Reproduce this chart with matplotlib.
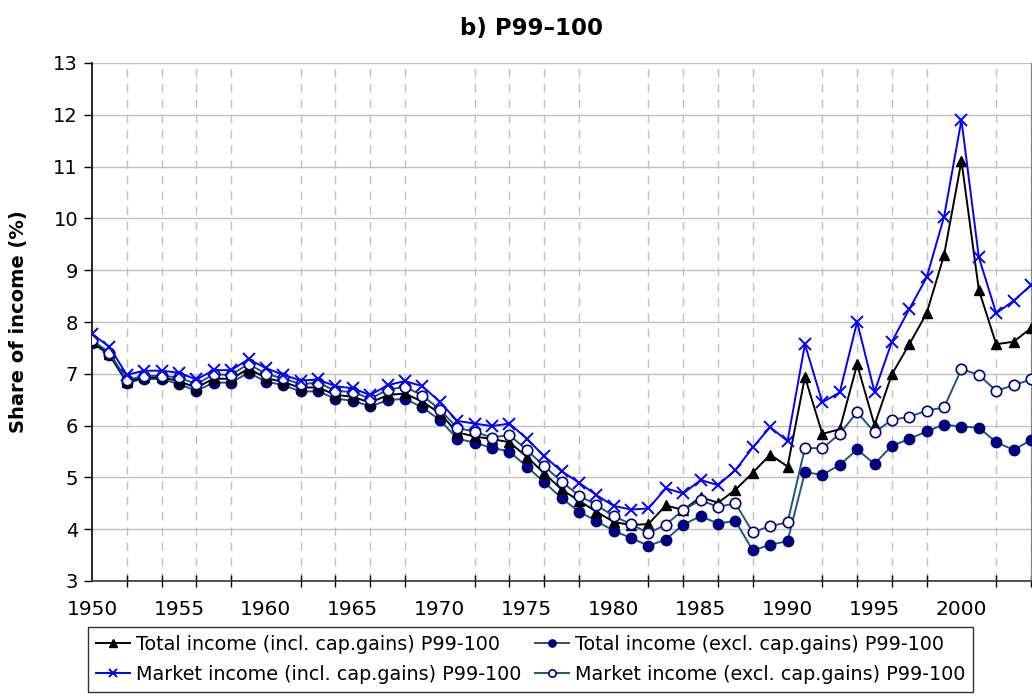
import matplotlib
matplotlib.use("Agg")
import matplotlib.pyplot as plt
from matplotlib.ticker import FixedLocator

years = list(range(1950, 2005))

total_incl = [7.62, 7.38, 6.85, 6.93, 6.93, 6.86, 6.73, 6.91, 6.90, 7.10,
              6.92, 6.84, 6.73, 6.74, 6.59, 6.56, 6.44, 6.59, 6.62, 6.46,
              6.24, 5.87, 5.79, 5.74, 5.68, 5.40, 5.08, 4.77, 4.55, 4.34,
              4.14, 4.08, 4.10, 4.46, 4.37, 4.62, 4.51, 4.76, 5.09, 5.44,
              5.21, 6.94, 5.84, 5.93, 7.18, 6.01, 6.99, 7.57, 8.17, 9.29,
              11.11, 8.62, 7.57, 7.62, 7.88]

total_excl = [7.60, 7.36, 6.83, 6.90, 6.90, 6.80, 6.67, 6.83, 6.83, 7.02,
              6.85, 6.78, 6.66, 6.66, 6.52, 6.48, 6.37, 6.49, 6.52, 6.35,
              6.11, 5.75, 5.67, 5.57, 5.50, 5.21, 4.91, 4.60, 4.34, 4.16,
              3.97, 3.83, 3.68, 3.80, 4.09, 4.25, 4.11, 4.16, 3.59, 3.70,
              3.77, 5.10, 5.05, 5.24, 5.54, 5.26, 5.61, 5.74, 5.89, 6.02,
              5.98, 5.96, 5.68, 5.53, 5.72]

market_incl = [7.77, 7.52, 6.98, 7.06, 7.06, 7.02, 6.89, 7.07, 7.07, 7.28,
               7.11, 6.98, 6.87, 6.89, 6.76, 6.72, 6.59, 6.78, 6.86, 6.76,
               6.46, 6.09, 6.04, 5.99, 6.04, 5.75, 5.41, 5.12, 4.90, 4.66,
               4.45, 4.38, 4.40, 4.79, 4.69, 4.95, 4.85, 5.14, 5.58, 5.97,
               5.70, 7.57, 6.45, 6.64, 8.00, 6.65, 7.62, 8.25, 8.86, 10.03,
               11.90, 9.25, 8.17, 8.41, 8.71]

market_excl = [7.65, 7.41, 6.88, 6.96, 6.96, 6.93, 6.80, 6.99, 6.98, 7.19,
               7.00, 6.91, 6.80, 6.83, 6.67, 6.65, 6.52, 6.69, 6.75, 6.58,
               6.31, 5.96, 5.88, 5.77, 5.82, 5.53, 5.22, 4.92, 4.65, 4.47,
               4.25, 4.10, 3.92, 4.09, 4.37, 4.56, 4.43, 4.50, 3.94, 4.06,
               4.13, 5.57, 5.56, 5.84, 6.26, 5.87, 6.11, 6.17, 6.29, 6.35,
               7.09, 6.98, 6.67, 6.78, 6.89]

labels = ["Total income (incl. cap.gains) P99-100",
          "Market income (incl. cap.gains) P99-100",
          "Total income (excl. cap.gains) P99-100",
          "Market income (excl. cap.gains) P99-100"]

W, H = 1032, 697
fig = plt.figure(figsize=(W / 100, H / 100), dpi=100)
ax = fig.add_axes([92 / W, 1 - 581 / H, (1031 - 92) / W, (581 - 63) / H])

line_teal = "#1d5677"
navy = "#000080"

h_te, = ax.plot(years, total_excl, color=line_teal, lw=1.4, marker="o",
                ms=7.5, mfc=navy, mec=navy, zorder=3)
h_ti, = ax.plot(years, total_incl, color="black", lw=1.4, marker="^",
                ms=7.5, mfc="black", mec="black", zorder=4)
h_me, = ax.plot(years, market_excl, color=line_teal, lw=1.4, marker="o",
                ms=7.5, mfc="white", mec=navy, mew=1.2, zorder=5)
h_mi, = ax.plot(years, market_incl, color="#0000ff", lw=1.4, marker="x",
                ms=8, mec="#0000ff", mew=1.4, zorder=6)

ax.set_xlim(1950, 2004)
ax.set_ylim(3, 13)
ax.set_yticks(range(3, 14))
ax.tick_params(axis="y", labelsize=14, length=6, width=1, direction="out", pad=4)

# labels every 5 years, tick marks and dashed grid every 2 years
ax.xaxis.set_major_locator(FixedLocator(list(range(1950, 2005, 5))))
ax.xaxis.set_minor_locator(FixedLocator(list(range(1950, 2005, 2))))
ax.tick_params(axis="x", which="major", length=0, labelsize=14.5, pad=14)
ax.tick_params(axis="x", which="minor", length=9, width=1, direction="inout")

ax.grid(axis="y", which="major", color="#c0c0c0", lw=1.0, ls="-", zorder=0)
ax.grid(axis="x", which="minor", color="#c0c0c0", lw=1.0, ls=(0, (6, 5)), zorder=0)
ax.grid(axis="x", which="major", visible=False)
ax.set_axisbelow(True)

ax.spines["top"].set_visible(False)
ax.spines["right"].set_color("#808080")
ax.spines["left"].set_color("black")
ax.spines["bottom"].set_color("#333333")
ax.spines["left"].set_linewidth(1.2)
ax.spines["bottom"].set_linewidth(1.2)

ax.set_ylabel("Share of income (%)", fontsize=14, fontweight="bold", labelpad=18)
fig.text(532 / W, 1 - 28 / H, "b) P99\u2013100", ha="center", va="center",
         fontsize=16.5, fontweight="bold")

leg = fig.legend([h_ti, h_mi, h_te, h_me], labels, ncol=2,
                 loc="upper left", bbox_to_anchor=(88 / W, 1 - 627 / H),
                 borderaxespad=0,
                 fontsize=13.8, frameon=True, fancybox=False, edgecolor="black",
                 handlelength=1.8, handletextpad=0.3, columnspacing=0.7,
                 borderpad=0.4, labelspacing=0.6, markerscale=0.7)
leg.get_frame().set_linewidth(1.0)

fig.savefig("out.png", dpi=100)
